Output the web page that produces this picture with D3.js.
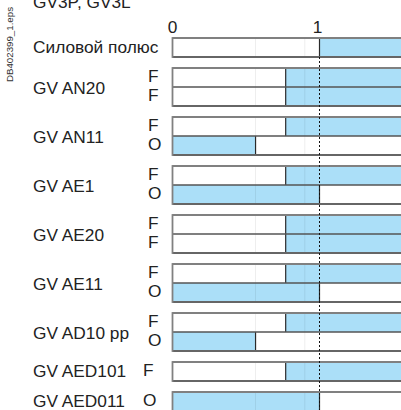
<!DOCTYPE html>
<html>
<head>
<meta charset="utf-8">
<script src="https://cdn.jsdelivr.net/npm/d3@7"></script>
<style>
html,body{margin:0;padding:0;background:#fff;}
svg{display:block;font-family:"Liberation Sans",Arial,sans-serif;}
</style>
</head>
<body>
<svg id="chart" width="401" height="410"></svg>
<script>
// ---- data ----
const title = "GV3P, GV3L";
const sideNote = "DB402399_1.eps";
const axisTicks = [0, 1];
const groupNames = ["Силовой полюс","GV AN20","GV AN11","GV AE1","GV AE20","GV AE11","GV AD10 pp","GV AED101","GV AED011"];
const groupSizes = [1, 2, 2, 2, 2, 2, 2, 1, 1];
const rowContacts = ["", "F","F", "F","O", "F","O", "F","F", "F","O", "F","O", "F", "O"];
const barEnd = 1.65;
const blueStart = [1, 0.77,0.77, 0.77,0, 0.77,0, 0.77,0.77, 0.77,0, 0.77,0, 0.77, 0];
const blueEnd   = [barEnd, barEnd,barEnd, barEnd,0.565, barEnd,1, barEnd,barEnd, barEnd,1, barEnd,0.565, barEnd, 1];
const faintMarks = [0.565, 0.9];

// ---- layout ----
const svg = d3.select("#chart");
const x = d3.scaleLinear().domain([0, 1]).range([172.5, 319.5]);
const rowH = 19, gap = 11, top0 = 38;
const y = d3.scaleLinear().domain([0, 1]).range([top0, top0 + rowH]);

const rows = [];
const groups = [];
let u = 0, r = 0;
groupSizes.forEach((n, gi) => {
  const g = {name: groupNames[gi], start: u, size: n, rows: []};
  for (let k = 0; k < n; k++) {
    const row = {i: r, g: gi, k, u, contact: rowContacts[r], b0: blueStart[r], b1: blueEnd[r], size: n};
    rows.push(row); g.rows.push(row);
    u += 1; r += 1;
  }
  groups.push(g);
  u += gap / rowH;
});

const blue = "#abdff8";
const dark = "#2a2a2a";
const edge = "#808080";
const FS = 17.3;

// title & side note
svg.append("text").attr("x", 33).attr("y", 8).attr("font-size", FS).attr("fill", "#222").text(title);
svg.append("text").attr("transform", "translate(12.5,82) rotate(-90)").attr("font-size", 8.5)
  .attr("textLength", 75).attr("lengthAdjust", "spacingAndGlyphs").attr("fill", "#333").text(sideNote);

// axis tick labels
svg.selectAll("text.tick").data(axisTicks).enter().append("text")
  .attr("class", "tick")
  .attr("x", d => x(d) - (d === 1 ? 2 : 0)).attr("y", 33)
  .attr("text-anchor", "middle").attr("font-size", FS).attr("fill", "#222")
  .text(d => d);

// bars
const gBars = svg.append("g");
rows.forEach(row => {
  const y0 = y(row.u), y1 = y(row.u + 1);
  gBars.append("rect").attr("x", x(0)).attr("y", y0).attr("width", x(barEnd) - x(0)).attr("height", y1 - y0).attr("fill", "#fff");
  gBars.append("rect").attr("x", x(row.b0)).attr("y", y0).attr("width", x(row.b1) - x(row.b0)).attr("height", y1 - y0).attr("fill", blue);
  faintMarks.forEach(m => {
    gBars.append("line").attr("x1", x(m)).attr("x2", x(m)).attr("y1", y0).attr("y2", y1)
      .attr("stroke", "#000").attr("stroke-opacity", 0.07).attr("stroke-width", 1);
  });
  [row.b0, row.b1].filter(v => v > 0 && v < barEnd).forEach(v => {
    gBars.append("line").attr("x1", x(v)).attr("x2", x(v)).attr("y1", y0).attr("y2", y1)
      .attr("stroke", dark).attr("stroke-width", 1.2);
  });
});
groups.forEach(g => {
  const y0 = y(g.start), y1 = y(g.start + g.size);
  for (let k = 1; k < g.size; k++) {
    const yy = y(g.start + k);
    gBars.append("line").attr("x1", x(0)).attr("x2", x(barEnd)).attr("y1", yy).attr("y2", yy)
      .attr("stroke", "#555").attr("stroke-width", 1.3);
  }
  gBars.append("line").attr("x1", x(0)).attr("x2", x(barEnd)).attr("y1", y0).attr("y2", y0)
    .attr("stroke", edge).attr("stroke-width", 1.8);
  gBars.append("line").attr("x1", x(0)).attr("x2", x(barEnd)).attr("y1", y1).attr("y2", y1)
    .attr("stroke", "#666").attr("stroke-width", 1.8);
  gBars.append("line").attr("x1", x(0)).attr("x2", x(0)).attr("y1", y0 - 0.9).attr("y2", y1 + 0.9)
    .attr("stroke", edge).attr("stroke-width", 1.8);
});

// dashed line at 1
svg.append("line").attr("x1", x(1)).attr("x2", x(1)).attr("y1", y(1)).attr("y2", 410)
  .attr("stroke", "#111").attr("stroke-width", 1).attr("stroke-dasharray", "2,2");

// group labels
svg.selectAll("text.glab").data(groups).enter().append("text")
  .attr("class", "glab")
  .attr("x", 33)
  .attr("y", g => (y(g.start) + y(g.start + g.size)) / 2 + (g.size > 1 ? 6.5 : 5))
  .attr("font-size", FS).attr("fill", "#222")
  .text(g => g.name);

// contact labels
svg.selectAll("text.clab").data(rows.filter(d => d.contact)).enter().append("text")
  .attr("class", "clab")
  .attr("x", d => d.size > 1 ? 148 : 143)
  .attr("y", d => (y(d.u) + y(d.u + 1)) / 2 + 4.5)
  .attr("font-size", FS).attr("fill", "#222")
  .text(d => d.contact);
</script>
</body>
</html>
